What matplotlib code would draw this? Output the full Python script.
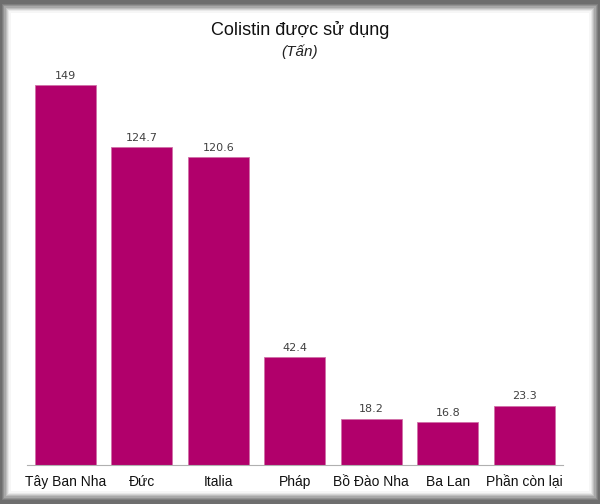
import matplotlib.pyplot as plt
from matplotlib.patches import FancyBboxPatch

plt.rcParams['font.family'] = ['Liberation Sans', 'DejaVu Sans']

categories = ["Tây Ban Nha", "Đức", "Italia", "Pháp", "Bồ Đào Nha", "Ba Lan", "Phần còn lại"]
values = [149, 124.7, 120.6, 42.4, 18.2, 16.8, 23.3]
value_labels = ["149", "124.7", "120.6", "42.4", "18.2", "16.8", "23.3"]

W, H = 600, 504
fig = plt.figure(figsize=(6, 5.04), dpi=100)
fig.patch.set_facecolor("#6e6e6e")

# soft shadow frame
shades = ["#7e7e7e", "#929292", "#a8a8a8", "#bebebe", "#d4d4d4", "#e8e8e8", "#f6f6f6"]
for i, c in enumerate(shades):
    d = i * 1.2
    fig.patches.append(FancyBboxPatch(((2 + d) / W, (4 + d) / H), (596 - d * 2) / W, (496 - d * 2) / H,
                                      boxstyle="square,pad=0", transform=fig.transFigure,
                                      facecolor=c, edgecolor="none", zorder=-10 + i))
fig.patches.append(FancyBboxPatch((11 / W, 13 / H), 578 / W, 478 / H,
                                  boxstyle="square,pad=0", transform=fig.transFigure,
                                  facecolor="white", edgecolor="none", zorder=-2))

ax = fig.add_axes([27 / W, (504 - 465) / H, 535.5 / W, 408 / H])
ax.set_facecolor("none")
x = range(len(categories))
bars = ax.bar(x, values, width=0.8, color="#b1006b", edgecolor="#d070a8", linewidth=0.6)
ax.set_xlim(-0.5, len(categories) - 0.5)
ax.set_ylim(0, 160)

for xi, v, lab in zip(x, values, value_labels):
    ax.annotate(lab, (xi, v), xytext=(0, 3), textcoords="offset points",
                ha="center", va="bottom", fontsize=8, color="#404040",
                family=["DejaVu Sans"])

ax.set_xticks(list(x))
ax.set_xticklabels(categories, fontsize=10, color="#111111")
ax.tick_params(axis="x", length=0, pad=7)
ax.set_yticks([])
for s in ["top", "right", "left"]:
    ax.spines[s].set_visible(False)
ax.spines["bottom"].set_color("#b0b0b0")

fig.text(0.5, 1 - 30 / H, "Colistin được sử dụng", ha="center", va="center",
         fontsize=13, color="#111111")
fig.text(0.5, 1 - 52 / H, "(Tấn)", ha="center", va="center",
         fontsize=11, style="italic", color="#222222")

fig.savefig("out.png", dpi=100, facecolor=fig.get_facecolor())
